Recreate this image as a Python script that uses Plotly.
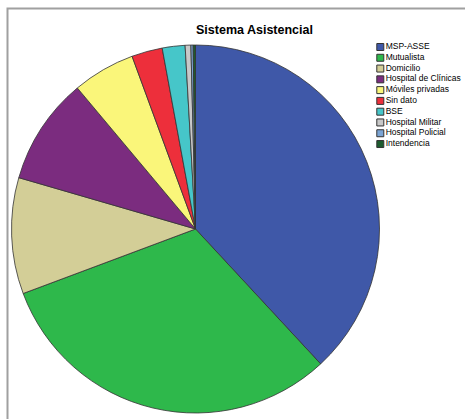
import plotly.graph_objects as go

# Health-care system of the patients (percent of cases)
categories = [
    "MSP-ASSE", "Mutualista", "Domicilio", "Hospital de Clínicas",
    "Móviles privadas", "Sin dato", "BSE", "Hospital Militar",
    "Hospital Policial", "Intendencia",
]
percentages = [38.1, 31.2, 10.2, 9.4, 5.5, 2.7, 2.0, 0.5, 0.2, 0.2]
colors = [
    "#3F58A8", "#2EB84B", "#D3CE97", "#7B2C7F", "#FAF67A",
    "#ED2F3B", "#46C6C9", "#C8C8C8", "#7BA4D4", "#1D5B2E",
]
title_text = "Sistema Asistencial"

W, H = 465, 419

fig = go.Figure()

# Pie, clockwise from 12 o'clock
cx, cy, r = 195.5, 229, 184
fig.add_trace(go.Pie(
    labels=categories,
    values=percentages,
    marker=dict(colors=colors, line=dict(color="#333333", width=0.8)),
    sort=False,
    direction="clockwise",
    rotation=0,
    textinfo="none",
    showlegend=False,
    domain=dict(x=[(cx - r) / W, (cx + r) / W],
                y=[1 - (cy + r) / H, 1 - (cy - r) / H]),
))

# Legend drawn as a column of square markers with labels
n = len(categories)
leg_top, leg_step = 47, 10.78
fig.add_trace(go.Scatter(
    x=[0] * n,
    y=list(range(n)),
    mode="markers+text",
    marker=dict(symbol="square", size=7, color=colors,
                line=dict(color="#333333", width=1)),
    text=categories,
    textposition="middle right",
    textfont=dict(family="Liberation Sans, Arial, sans-serif", size=8.5,
                  color="#000000"),
    hoverinfo="text",
    showlegend=False,
    cliponaxis=False,
    xaxis="x", yaxis="y",
))

y_top_px = leg_top - 0.5 * leg_step
y_bot_px = leg_top + (n - 0.5) * leg_step
mx = 380.3
fig.update_layout(
    width=W, height=H,
    margin=dict(l=0, r=0, t=0, b=0),
    paper_bgcolor="white",
    plot_bgcolor="rgba(0,0,0,0)",
    xaxis=dict(domain=[(mx - 10) / W, (mx + 10) / W], range=[-1, 1],
               visible=False, fixedrange=True),
    yaxis=dict(domain=[1 - y_bot_px / H, 1 - y_top_px / H],
               range=[n - 0.5, -0.5], visible=False, fixedrange=True),
    annotations=[dict(
        text="<b>" + title_text + "</b>",
        x=254.5 / W, y=1 - 30 / H, xref="paper", yref="paper",
        xanchor="center", yanchor="middle", showarrow=False,
        font=dict(family="Liberation Sans, Arial, sans-serif", size=12.5,
                  color="#000000"),
    )],
    shapes=[dict(
        type="rect", xref="paper", yref="paper",
        x0=7.5 / W, x1=(W + 10) / W, y0=-10 / H, y1=1 - 8.5 / H,
        line=dict(color="#A0A0A0", width=2),
    )],
)

fig.write_html("out.html")
